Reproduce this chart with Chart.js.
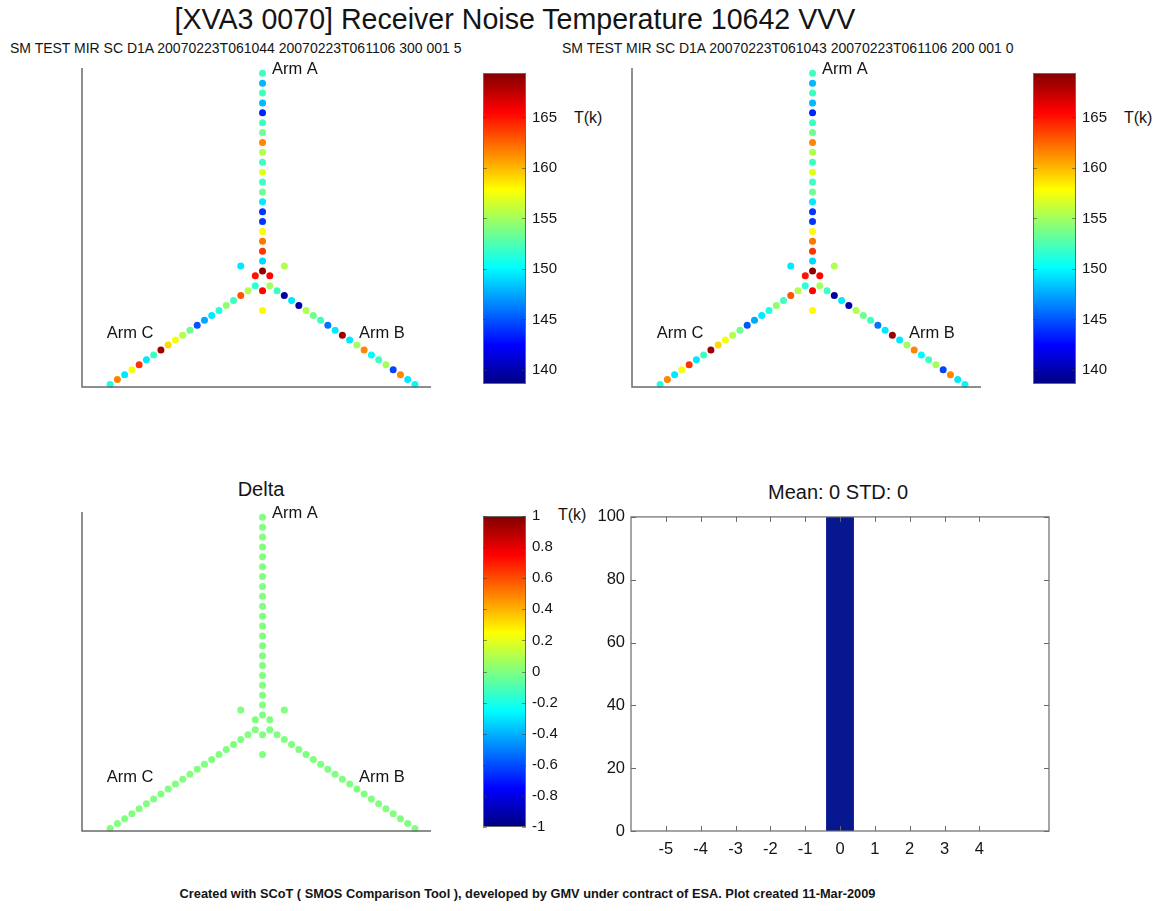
<!DOCTYPE html>
<html>
<head>
<meta charset="utf-8">
<script src="https://cdn.jsdelivr.net/npm/chart.js@4.4.1/dist/chart.umd.min.js"></script>
<style>
  html, body { margin: 0; padding: 0; background: #fff; }
  body { position: relative; width: 1163px; height: 911px; overflow: hidden;
         font-family: "Liberation Sans", Arial, Helvetica, sans-serif; color: #141414; }
  .txt { position: absolute; white-space: nowrap; line-height: 1; }
  canvas { position: absolute; display: block; }
</style>
</head>
<body>
<div class="txt" style="left:0;width:1030px;top:5px;font-size:28.6px;text-align:center">[XVA3 0070] Receiver Noise Temperature 10642 VVV</div>
<div class="txt" style="left:10px;top:41px;font-size:14px">SM TEST MIR SC D1A 20070223T061044 20070223T061106 300 001 5</div>
<div class="txt" style="left:562px;top:41px;font-size:14px">SM TEST MIR SC D1A 20070223T061043 20070223T061106 200 001 0</div>
<div class="txt" style="left:574px;top:110px;font-size:16px">T(k)</div>
<div class="txt" style="left:1124px;top:110px;font-size:16px">T(k)</div>
<div class="txt" style="left:161px;width:200px;top:479px;font-size:20px;text-align:center">Delta</div>
<div class="txt" style="left:558px;top:507px;font-size:16px">T(k)</div>
<div class="txt" id="histTitle" style="left:738px;width:200px;top:482px;font-size:20px;text-align:center"></div>
<div class="txt" style="left:0;width:1055px;top:888px;font-size:12.8px;font-weight:bold;text-align:center">Created with SCoT ( SMOS Comparison Tool ), developed by GMV under contract of ESA. Plot created 11-Mar-2009</div>

<script>
// Receiver noise temperatures (K) of the Y-shaped array, listed from the hub outwards.
// Acquisition 1 (…T061044 … 300 001 5)
const armA_T1 = [169, 149, 164, 162, 158, 144, 144, 149.5, 153.5, 152, 157, 152, 155.5, 161.5, 153.5, 152, 143.5, 148, 152, 148, 152];
const armB_T1 = [155, 152, 139.5, 149.5, 140, 155.5, 153.5, 152, 146, 149.5, 168.5, 149.5, 155, 161.5, 150, 152, 155, 144.5, 161.5, 149.5, 150];
const armC_T1 = [151.5, 155.5, 163, 152, 154.5, 151, 149.5, 147.5, 145, 153.5, 155.5, 157.5, 159, 168.5, 152, 149.5, 164, 157.5, 149.5, 161.5, 151];
// hub receivers between the arms (30°, 150°, 270°): inner ring, outer ring
const hubInner_T1 = [165.5, 165, 165.5];
const hubOuter_T1 = [155.5, 149.5, 158];

// Acquisition 2 (…T061043 … 200 001 0)
const armA_T2 = [169, 149, 164, 162, 158, 144, 144, 149.5, 153.5, 152, 157, 152, 155.5, 161.5, 153.5, 152, 143.5, 148, 152, 148, 152];
const armB_T2 = [155, 152, 139.5, 149.5, 140, 155.5, 153.5, 152, 146, 149.5, 168.5, 149.5, 155, 161.5, 150, 152, 155, 144.5, 161.5, 149.5, 150];
const armC_T2 = [151.5, 155.5, 163, 152, 154.5, 151, 149.5, 147.5, 145, 153.5, 155.5, 157.5, 159, 168.5, 152, 149.5, 164, 157.5, 149.5, 161.5, 151];
const hubInner_T2 = [165.5, 165, 165.5];
const hubOuter_T2 = [155.5, 149.5, 158];

// Colour scale limits and colourbar tick labels
const tempRange = [138.6, 169.4];
const tempTicks = [140, 145, 150, 155, 160, 165];
const deltaRange = [-1, 1];
const deltaTicks = [1, 0.8, 0.6, 0.4, 0.2, 0, -0.2, -0.4, -0.6, -0.8, -1];

// Histogram of the delta (percentage of receivers per bin)
const histBins = [-5, -4, -3, -2, -1, 0, 1, 2, 3, 4];
const histPercent = [0, 0, 0, 0, 0, 100, 0, 0, 0, 0];
const histYTicks = [0, 20, 40, 60, 80, 100];
const histStats = { mean: 0, std: 0 };

// ---------------------------------------------------------------------------
const FONT = '"Liberation Sans", Arial, Helvetica, sans-serif';
const INK = '#141414';
const AXIS_GREY = '#6a6a6a';
Chart.defaults.font.family = FONT;
Chart.defaults.color = INK;

document.getElementById('histTitle').textContent = 'Mean: ' + histStats.mean + ' STD: ' + histStats.std;

// MATLAB-style "jet" colour map, t in [0,1]
function jetRGB(t) {
  t = Math.max(0, Math.min(1, t));
  const c = v => Math.round(255 * Math.max(0, Math.min(1, v)));
  return [c(Math.min(4 * t - 1.5, -4 * t + 4.5)),
          c(Math.min(4 * t - 0.5, -4 * t + 3.5)),
          c(Math.min(4 * t + 0.5, -4 * t + 2.5))];
}
const jet = t => 'rgb(' + jetRGB(t).join(',') + ')';

// Array geometry: arm directions and bisectors (degrees), unit receiver spacing
const ARM_DIR = { A: 90, B: -30, C: 210 };
const HUB_DIR = [30, 150, 270];
const HUB_RADII = { inner: 1, outer: 3 };
const rad = d => d * Math.PI / 180;

function arrayPoints(a, b, c, inner, outer) {
  const pts = [];
  [['A', a], ['B', b], ['C', c]].forEach(([arm, vals]) => {
    const ang = rad(ARM_DIR[arm]);
    vals.forEach((v, i) => pts.push({ x: (i + 1) * Math.cos(ang), y: (i + 1) * Math.sin(ang), v }));
  });
  HUB_DIR.forEach((d, i) => {
    pts.push({ x: HUB_RADII.inner * Math.cos(rad(d)), y: HUB_RADII.inner * Math.sin(rad(d)), v: inner[i] });
    pts.push({ x: HUB_RADII.outer * Math.cos(rad(d)), y: HUB_RADII.outer * Math.sin(rad(d)), v: outer[i] });
  });
  return pts;
}
const diff = (p, q) => p.map((v, i) => v - q[i]);

const snap1 = arrayPoints(armA_T1, armB_T1, armC_T1, hubInner_T1, hubOuter_T1);
const snap2 = arrayPoints(armA_T2, armB_T2, armC_T2, hubInner_T2, hubOuter_T2);
const delta = arrayPoints(diff(armA_T2, armA_T1), diff(armB_T2, armB_T1), diff(armC_T2, armC_T1),
                          diff(hubInner_T2, hubInner_T1), diff(hubOuter_T2, hubOuter_T1));

// ---------------------------------------------------------------------------
function makeCanvas(area, m) {
  const cv = document.createElement('canvas');
  cv.width = Math.round(area.r - area.l + m.l + m.r);
  cv.height = Math.round(area.b - area.t + m.t + m.b);
  cv.style.left = (area.l - m.l) + 'px';
  cv.style.top = (area.t - m.t) + 'px';
  document.body.appendChild(cv);
  return cv;
}
const baseOpts = { responsive: false, animation: false, devicePixelRatio: 1, events: [],
                   plugins: { legend: { display: false }, tooltip: { enabled: false } } };

// Left + bottom axis lines and arm captions for the array maps
const armMapDecor = {
  id: 'armMapDecor',
  afterDatasetsDraw(chart) {
    const { ctx, chartArea: a, scales: { x, y } } = chart;
    ctx.save();
    ctx.strokeStyle = AXIS_GREY; ctx.lineWidth = 1.5;
    ctx.beginPath();
    ctx.moveTo(a.left, a.top); ctx.lineTo(a.left, a.bottom); ctx.lineTo(a.right, a.bottom);
    ctx.stroke();
    ctx.fillStyle = INK; ctx.font = '16.5px ' + FONT; ctx.textBaseline = 'middle'; ctx.textAlign = 'left';
    chart.options.plugins.armMapDecor.labels.forEach(l => ctx.fillText(l.text, x.getPixelForValue(l.x), y.getPixelForValue(l.y)));
    ctx.restore();
  }
};

const MAP_X = [-21.54, 20.1], MAP_Y = [-10.75, 21.54];
const ARM_LABELS = [
  { text: 'Arm A', x: 1.13, y: 21.44 },
  { text: 'Arm B', x: 11.5, y: -5.3 },
  { text: 'Arm C', x: -18.6, y: -5.3 }
];

function arrayMap(area, points, range) {
  const m = { l: 30, r: 30, t: 20, b: 20 };
  new Chart(makeCanvas(area, m), {
    type: 'scatter',
    data: { datasets: [{
      data: points, clip: false,
      pointRadius: 3.5, pointHoverRadius: 3.5, pointBorderWidth: 0,
      pointBackgroundColor: c => jet((c.raw.v - range[0]) / (range[1] - range[0]))
    }] },
    options: { ...baseOpts,
      layout: { padding: { left: m.l, right: m.r, top: m.t, bottom: m.b } },
      plugins: { ...baseOpts.plugins, armMapDecor: { labels: ARM_LABELS } },
      scales: {
        x: { type: 'linear', display: false, min: MAP_X[0], max: MAP_X[1] },
        y: { type: 'linear', display: false, min: MAP_Y[0], max: MAP_Y[1] }
      } },
    plugins: [armMapDecor]
  });
}

// Colourbar frame with inward tick marks on both edges
const barFrame = {
  id: 'barFrame',
  afterDatasetsDraw(chart) {
    const { ctx, chartArea: a, scales: { y } } = chart;
    ctx.save();
    ctx.strokeStyle = AXIS_GREY; ctx.lineWidth = 1;
    ctx.strokeRect(a.left + 0.5, a.top + 0.5, a.right - a.left - 1, a.bottom - a.top - 1);
    ctx.strokeStyle = 'rgba(60,60,60,0.55)';
    y.ticks.forEach(t => {
      const py = Math.round(y.getPixelForValue(t.value)) + 0.5;
      ctx.beginPath();
      ctx.moveTo(a.left, py); ctx.lineTo(a.left + 4, py);
      ctx.moveTo(a.right, py); ctx.lineTo(a.right - 4, py);
      ctx.stroke();
    });
    ctx.restore();
  }
};

function jetGradient(chart, range) {
  const { ctx, chartArea, scales: { y } } = chart;
  if (!chartArea) return '#888';
  const g = ctx.createLinearGradient(0, y.getPixelForValue(range[0]), 0, y.getPixelForValue(range[1]));
  [0, 0.125, 0.375, 0.625, 0.875, 1].forEach(s => g.addColorStop(s, jet(s)));
  return g;
}

function colourBar(area, range, ticks) {
  const axisW = 60;
  const m = { l: 4, r: axisW + 4, t: 12, b: 12 };
  new Chart(makeCanvas(area, m), {
    type: 'bar',
    data: { labels: [''], datasets: [{
      data: [range], borderWidth: 0, barPercentage: 1, categoryPercentage: 1,
      backgroundColor: c => jetGradient(c.chart, range)
    }] },
    options: { ...baseOpts,
      layout: { padding: { left: m.l, right: 4, top: m.t, bottom: m.b } },
      scales: {
        x: { display: false },
        y: { position: 'right', min: range[0], max: range[1],
             afterBuildTicks: s => { s.ticks = ticks.map(v => ({ value: v })); },
             afterFit: s => { s.width = axisW; },
             grid: { display: false, drawTicks: false }, border: { display: false },
             ticks: { padding: 6, color: INK, font: { size: 15 }, callback: v => String(v) } }
      } },
    plugins: [barFrame]
  });
}

// Histogram box with inward ticks on all four sides
const histFrame = {
  id: 'histFrame',
  afterDatasetsDraw(chart) {
    const { ctx, chartArea: a, scales: { x, y } } = chart;
    ctx.save();
    ctx.strokeStyle = AXIS_GREY; ctx.lineWidth = 1.2;
    ctx.strokeRect(a.left, a.top, a.right - a.left, a.bottom - a.top);
    ctx.lineWidth = 1;
    ctx.beginPath();
    x.ticks.forEach(t => {
      const px = Math.round(x.getPixelForValue(t.value)) + 0.5;
      ctx.moveTo(px, a.bottom); ctx.lineTo(px, a.bottom - 5);
      ctx.moveTo(px, a.top); ctx.lineTo(px, a.top + 5);
    });
    y.ticks.forEach(t => {
      const py = Math.round(y.getPixelForValue(t.value)) + 0.5;
      ctx.moveTo(a.left, py); ctx.lineTo(a.left + 5, py);
      ctx.moveTo(a.right, py); ctx.lineTo(a.right - 5, py);
    });
    ctx.stroke();
    ctx.restore();
  }
};

function histogram(area) {
  const yW = 44, xH = 34;
  const m = { l: yW + 8, r: 20, t: 12, b: xH + 8 };
  new Chart(makeCanvas(area, m), {
    type: 'bar',
    data: { datasets: [{
      data: histBins.map((b, i) => ({ x: b, y: histPercent[i] })),
      backgroundColor: '#06178f', borderWidth: 0, barPercentage: 0.8, categoryPercentage: 1
    }] },
    options: { ...baseOpts,
      layout: { padding: { left: 8, right: m.r, top: m.t, bottom: 8 } },
      scales: {
        x: { type: 'linear', min: -6, max: 6, offset: false,
             afterBuildTicks: s => { s.ticks = histBins.map(v => ({ value: v })); },
             afterFit: s => { s.height = xH; },
             grid: { display: false, drawTicks: false }, border: { display: false },
             ticks: { padding: 9, color: INK, font: { size: 16.5 }, maxRotation: 0, autoSkip: false, callback: v => String(v) } },
        y: { min: 0, max: 100,
             afterBuildTicks: s => { s.ticks = histYTicks.map(v => ({ value: v })); },
             afterFit: s => { s.width = yW; },
             grid: { display: false, drawTicks: false }, border: { display: false },
             ticks: { padding: 6, color: INK, font: { size: 16.5 }, callback: v => String(v) } }
      } },
    plugins: [histFrame]
  });
}

// ---------------------------------------------------------------------------
arrayMap({ l: 82, r: 431, t: 68, b: 387 }, snap1, tempRange);
arrayMap({ l: 632, r: 981, t: 68, b: 387 }, snap2, tempRange);
arrayMap({ l: 82, r: 431, t: 511.5, b: 830.5 }, delta, deltaRange);

colourBar({ l: 483, r: 526, t: 70, b: 387 }, tempRange, tempTicks);
colourBar({ l: 1033, r: 1076, t: 70, b: 387 }, tempRange, tempTicks);
colourBar({ l: 483, r: 526, t: 513, b: 830 }, deltaRange, deltaTicks);

histogram({ l: 631, r: 1049, t: 513, b: 831 });
</script>
</body>
</html>
